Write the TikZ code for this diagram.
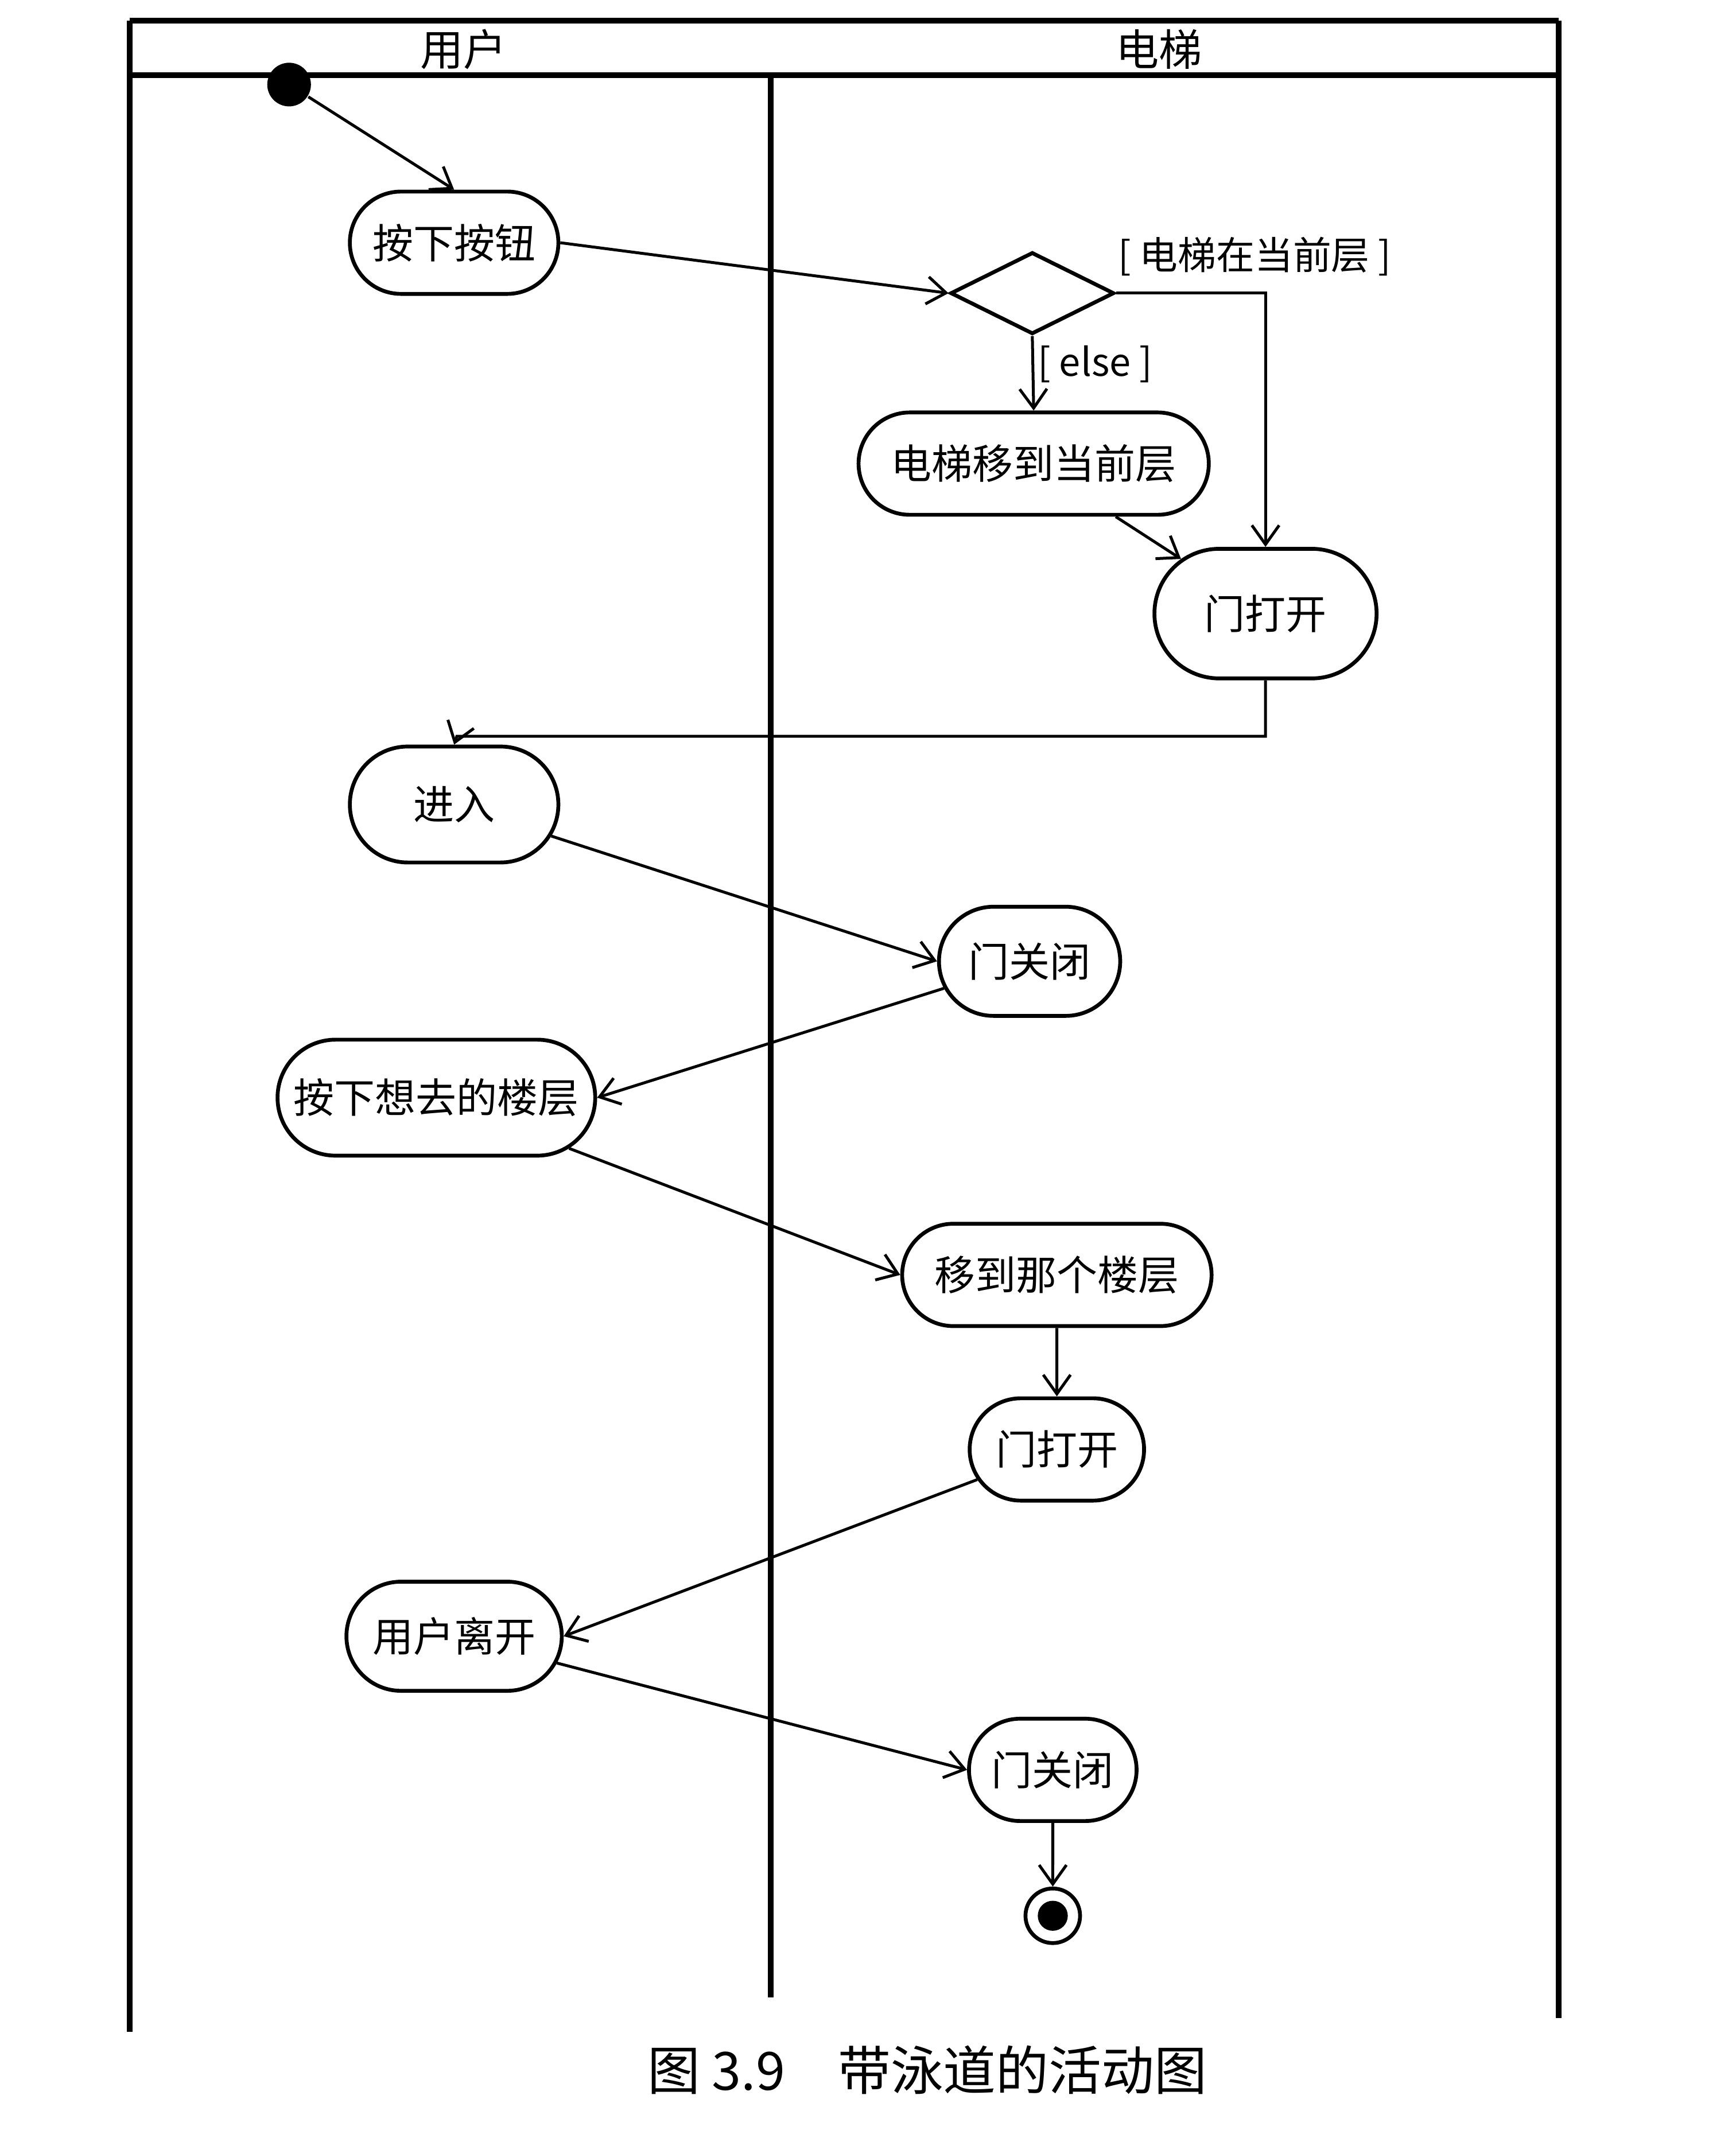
\documentclass[tikz,border=0pt]{standalone}
\usepackage{fontspec}
\setmainfont{Noto Sans CJK SC}
\usetikzlibrary{shapes.geometric,shapes.misc,arrows.meta}
\tikzset{
  act/.style={draw,thick,rounded rectangle,inner xsep=6pt,font=\fontsize{8.5}{10}\selectfont},
  flow/.style={draw,semithick,-{Straight Barb[length=1.4mm,width=2mm]}},
  lane/.style={draw,very thick}
}
\begin{document}
\begin{tikzpicture}[x=0.01cm,y=-0.01cm]
  \useasboundingbox[fill=white] (0,0) rectangle (1273,1568);
  % swimlanes
  \draw[lane] (95,15) -- (1143,15);
  \draw[lane] (95,55) -- (1143,55);
  \draw[lane] (95,15) -- (95,1490);
  \draw[lane] (565,55) -- (565,1465);
  \draw[lane] (1143,15) -- (1143,1480);
  \node (lu) at (340,36) {\fontsize{9}{10}\selectfont 用户};
  \node (le) at (850,36) {\fontsize{9}{10}\selectfont 电梯};
  % states
  \node[circle,fill=black,minimum size=0.32cm,inner sep=0] (start) at (212,62) {};
  \node[act,minimum width=1.95cm,minimum height=0.75cm] (press) at (333,178) {按下按钮};
  \node[draw,thick,diamond,aspect=2,minimum width=1.2cm,minimum height=0.6cm,inner sep=0] (dec) at (757,215) {};
  \node[act,minimum width=2.45cm,minimum height=0.75cm] (move) at (758,340) {电梯移到当前层};
  \node[act,minimum width=2.05cm,minimum height=0.95cm] (open1) at (928,450) {门打开};
  \node[act,minimum width=1.95cm,minimum height=0.85cm] (enter) at (333,590) {进入};
  \node[act,minimum width=1.75cm,minimum height=0.8cm] (close1) at (755,705) {门关闭};
  \node[act,minimum width=2.75cm,minimum height=0.85cm] (floor) at (320,805) {按下想去的楼层};
  \node[act,minimum width=2.15cm,minimum height=0.75cm] (goto) at (775,935) {移到那个楼层};
  \node[act,minimum width=1.7cm,minimum height=0.75cm] (open2) at (775,1063) {门打开};
  \node[act,minimum width=2cm,minimum height=0.8cm] (leave) at (333,1200) {用户离开};
  \node[act,minimum width=1.65cm,minimum height=0.75cm] (close2) at (772,1298) {门关闭};
  \node[circle,draw,thick,minimum size=0.4cm,inner sep=0] (stop) at (772,1405) {};
  \fill (stop) circle (0.11cm);
  % guards
  \node (g1) at (920,188) {\fontsize{8}{9}\selectfont [\ 电梯在当前层\ ]};
  \node (g2) at (803,267) {\fontsize{8}{9}\selectfont [ else ]};
  % flows
  \draw[flow] (start) -- (press.north);
  \draw[flow] (press.east) -- (dec.west);
  \draw[flow] (dec.south) -- (move.north);
  \draw[flow] (dec.east) -| (open1.north);
  \draw[flow] (move) -- (open1);
  \draw[flow] (open1.south) |- (335,540) -- (enter.north);
  \draw[flow] (enter) -- (close1.west);
  \draw[flow] (close1) -- (floor.east);
  \draw[flow] (floor) -- (goto.west);
  \draw[flow] (goto) -- (open2);
  \draw[flow] (open2) -- (leave.east);
  \draw[flow] (leave) -- (close2.west);
  \draw[flow] (close2) -- (stop);
  % caption
  \node (cap) at (680,1518) {\fontsize{11}{12}\selectfont 图 3.9\quad 带泳道的活动图};
\end{tikzpicture}
\end{document}
